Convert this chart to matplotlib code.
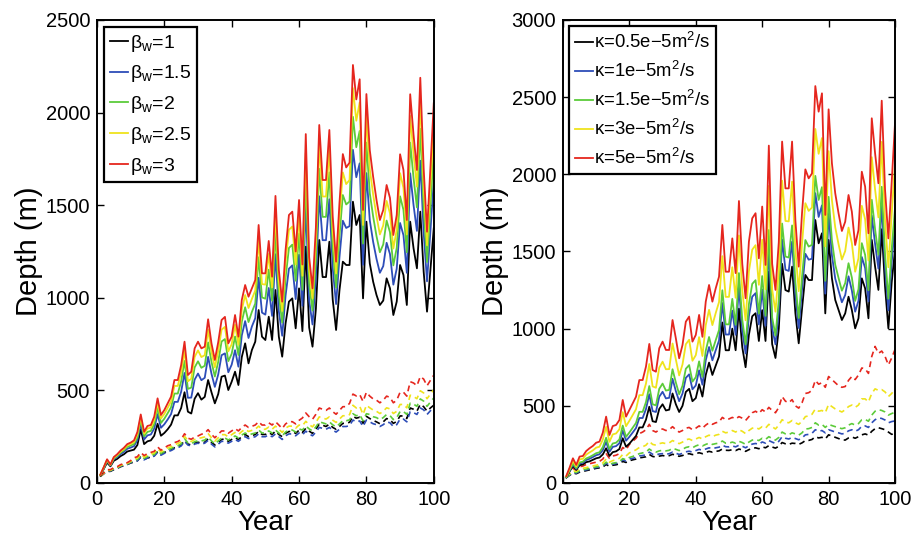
import matplotlib
matplotlib.use('Agg')
import matplotlib.pyplot as plt

plt.rcParams['font.family'] = ['Liberation Sans', 'DejaVu Sans']
plt.rcParams['mathtext.fontset'] = 'custom'
plt.rcParams['mathtext.rm'] = 'Liberation Sans'
plt.rcParams['mathtext.it'] = 'Liberation Sans:italic'

years = list(range(1, 101))

# left panel: beta_w runs (solid = upper curve, dashed = lower curve)
beta_labels = ['β$_\\mathrm{w}$=1', 'β$_\\mathrm{w}$=1.5', 'β$_\\mathrm{w}$=2',
               'β$_\\mathrm{w}$=2.5', 'β$_\\mathrm{w}$=3']

L_black = [40,75,110,90,120,130,145,155,170,175, 180,205,290,210,225,230,255,320,255,270,
           290,315,365,365,405,490,385,375,455,485, 450,465,556,490,430,480,574,580,502,547,
           601,529,680,754,646,718,763,934,790,772, 898,772,1042,790,682,862,979,997,835,1051,
           820,1276,840,736,940,1312,1112,1112,1303,990, 826,1040,1195,1177,1177,1519,1393,1447,997,1411,
           1186,1087,1015,961,985,1105,1051,907,979,1177, 1123,961,1411,1267,1159,1465,1141,925,1150,1375]
L_blue = [42,79,117,94,128,140,156,168,185,191, 199,232,320,235,257,262,294,372,298,317,
          343,372,438,438,493,594,460,461,558,591, 555,568,681,590,519,586,690,700,598,639,
          717,628,797,874,783,845,890,1108,920,909, 1053,902,1235,927,795,1012,1157,1175,993,1232,
          957,1507,984,856,1107,1548,1311,1311,1532,1160, 966,1219,1416,1377,1387,1799,1651,1726,1178,1673,
          1419,1302,1210,1135,1171,1297,1236,1071,1157,1404, 1338,1135,1672,1500,1361,1740,1353,1089,1359,1632]
L_green = [43,81,121,96,132,146,164,177,195,202, 211,248,340,252,276,281,319,405,324,347,
           377,409,483,483,549,659,508,515,624,657, 622,633,759,654,575,654,764,777,658,698,
           791,691,871,949,869,924,969,1219,1002,995, 1152,984,1357,1013,866,1108,1269,1287,1092,1347,
           1043,1653,1076,931,1213,1697,1437,1437,1677,1268, 1055,1333,1555,1504,1520,1977,1813,1901,1293,1838,
           1565,1439,1333,1246,1288,1417,1354,1175,1269,1548, 1475,1246,1838,1646,1488,1913,1487,1193,1491,1794]
L_yellow = [44,83,125,98,137,151,170,184,203,211, 221,263,356,266,294,299,340,434,348,373,
            406,440,524,524,598,717,549,563,681,716, 680,690,828,709,624,712,828,843,711,749,
            855,746,936,1015,945,994,1039,1315,1074,1071, 1237,1056,1464,1089,929,1191,1367,1385,1179,1447,
            1119,1781,1155,997,1305,1827,1547,1547,1803,1362, 1132,1432,1677,1614,1636,2132,1956,2055,1393,1983,
            1694,1558,1441,1342,1391,1523,1456,1266,1367,1673, 1594,1342,1982,1775,1600,2065,1604,1284,1607,1935]
L_red = [45,85,128,100,140,155,175,190,210,218, 230,275,370,277,308,313,358,457,367,394,
         430,466,556,556,637,763,583,601,727,763, 727,736,884,754,664,760,880,897,754,790,
         907,790,988,1069,1006,1051,1096,1393,1132,1132, 1307,1114,1550,1150,979,1258,1447,1465,1250,1528,
         1180,1884,1220,1051,1380,1933,1636,1636,1906,1438, 1195,1512,1776,1704,1730,2257,2071,2180,1474,2100,
         1798,1654,1528,1420,1474,1609,1539,1339,1447,1775, 1690,1420,2099,1879,1690,2188,1699,1357,1700,2050]

Ld_black = [35,50,62,63,72,78,88,93,100,108, 113,120,140,128,135,140,148,170,155,165,
            172,178,190,195,205,230,210,205,215,220, 215,220,238,220,205,218,235,238,225,235,
            245,235,250,262,250,255,262,278,262,262, 272,262,280,262,250,268,278,278,268,285,
            272,295,280,268,290,318,312,305,318,300, 290,305,322,322,328,360,350,355,322,360,
            348,338,330,320,330,348,342,322,332,362, 362,348,405,398,388,425,412,388,405,420]
Ld_blue = [35,50,65,65,75,80,90,95,100,110, 115,120,140,125,135,140,145,165,150,160,
           170,175,185,190,200,225,205,200,210,215, 210,215,230,210,195,210,225,225,215,225,
           235,225,240,250,240,245,250,265,250,250, 260,250,265,250,235,255,265,265,255,270,
           260,280,265,255,275,300,295,290,300,285, 275,290,305,305,310,340,330,335,305,340,
           330,320,315,305,315,330,325,305,315,345, 345,330,385,380,370,405,395,370,390,410]
Ld_green = [36,52,67,67,77,82,93,98,103,113, 122,127,148,133,143,148,154,175,159,170,
            180,186,196,201,212,239,217,212,223,228, 227,232,248,227,211,227,243,243,232,243,
            254,243,259,270,259,265,270,286,270,270, 281,270,286,270,254,275,286,286,275,292,
            286,308,292,281,303,330,325,319,330,314, 303,319,336,336,341,374,363,369,336,374,
            370,358,353,342,353,370,364,342,353,386, 386,370,431,426,414,454,442,414,437,459]
Ld_yellow = [37,53,69,69,80,85,95,101,106,117, 129,134,157,140,151,157,162,185,168,179,
             190,196,207,213,224,252,230,224,235,241, 244,249,267,244,226,244,261,261,249,261,
             273,261,278,290,278,284,290,307,290,290, 302,290,307,290,273,296,307,307,296,313,
             309,333,315,303,327,357,351,345,357,339, 327,345,363,363,369,420,405,415,370,420,
             406,394,387,375,387,406,400,375,387,424, 424,406,474,467,455,498,486,455,480,504]
Ld_red = [38,55,72,72,83,88,99,105,110,121, 136,142,165,148,159,165,171,195,177,189,
          201,207,218,224,236,266,242,236,248,254, 263,269,288,263,244,263,281,281,269,281,
          294,281,300,313,300,306,313,331,313,313, 325,313,331,313,294,319,331,331,319,338,
          351,378,358,344,371,405,398,392,405,385, 371,392,412,412,430,480,470,478,440,490,
          469,454,447,433,447,469,462,433,447,490, 490,469,547,540,525,575,561,525,554,582]

# right panel: kappa runs
kappa_labels = ['κ=0.5e−5m$^2$/s', 'κ=1e−5m$^2$/s', 'κ=1.5e−5m$^2$/s',
                'κ=3e−5m$^2$/s', 'κ=5e−5m$^2$/s']

R_black = [35,75,110,85,115,120,135,140,150,160, 165,185,225,175,200,205,220,290,235,255,
           280,305,360,360,410,494,400,395,480,510, 470,475,580,510,460,500,590,610,530,550,
           640,560,700,780,700,760,820,1040,860,860, 1000,860,1130,880,750,960,1080,1100,920,1120,
           920,1369,900,810,1000,1420,1250,1240,1402,1100, 905,1130,1348,1315,1315,1704,1553,1618,1099,1575,
           1326,1186,1121,1056,1099,1207,1121,1002,1067,1326, 1261,1067,1575,1402,1251,1644,1272,1002,1300,1510]
R_blue = [37,80,120,91,126,131,149,157,168,180, 186,213,266,202,234,239,258,340,274,299,
          327,356,421,421,479,575,466,460,559,591, 548,552,675,595,530,579,681,704,607,632,
          730,637,795,881,795,860,923,1166,962,962, 1117,960,1269,988,839,1081,1207,1230,1027,1254,
          1019,1532,1004,898,1112,1578,1382,1374,1564,1220, 1004,1254,1485,1447,1453,1878,1724,1799,1227,1744,
          1475,1324,1246,1171,1218,1339,1248,1110,1181,1464, 1393,1177,1733,1549,1389,1811,1397,1119,1430,1674]
R_green = [38,83,127,96,133,138,159,168,180,193, 199,232,293,220,256,261,282,372,299,327,
           358,389,461,461,524,628,510,503,610,644, 599,603,737,651,575,630,740,764,657,685,
           788,688,857,946,857,925,991,1249,1028,1028, 1193,1025,1360,1058,898,1159,1290,1314,1097,1341,
           1083,1639,1072,956,1185,1681,1467,1461,1669,1298, 1069,1335,1574,1532,1543,1990,1834,1917,1310,1854,
           1572,1414,1328,1246,1295,1424,1331,1180,1256,1554, 1478,1249,1835,1644,1479,1919,1479,1194,1515,1781]
R_yellow = [42,92,144,107,153,157,184,198,211,229, 235,281,364,267,315,321,348,459,368,403,
            440,478,569,569,644,771,626,617,747,786, 737,738,904,800,697,768,899,928,792,828,
            945,823,1023,1122,1023,1101,1172,1470,1206,1206, 1398,1200,1604,1247,1054,1371,1512,1541,1284,1576,
            1255,1925,1254,1110,1381,1959,1698,1695,1953,1508, 1243,1552,1813,1763,1785,2294,2133,2235,1533,2150,
            1833,1656,1547,1448,1503,1655,1554,1369,1456,1796, 1709,1442,2111,1901,1721,2210,1698,1398,1742,2068]
R_red = [45,100,160,117,171,175,207,225,240,261, 268,326,430,311,369,376,408,538,430,473,
         516,559,667,667,754,901,732,721,873,916, 862,862,1056,937,808,894,1045,1078,916,959,
         1089,947,1175,1283,1175,1261,1337,1672,1369,1369, 1585,1360,1827,1420,1197,1564,1715,1748,1456,1791,
         1413,2186,1420,1251,1560,2212,1909,1909,2212,1700, 1402,1750,2032,1974,2006,2572,2406,2525,1737,2421,
         2071,1877,1747,1633,1693,1866,1758,1542,1639,2017, 1920,1618,2363,2136,1942,2477,1899,1585,1950,2331]

Rd_black = [34,50,65,60,70,75,80,85,90,95, 98,104,120,108,115,118,124,140,133,144,
            150,155,163,166,170,185,172,168,174,178, 174,177,186,180,173,178,186,190,184,190,
            196,190,198,205,200,205,208,220,212,211, 216,210,220,214,205,216,224,228,222,234,
            228,242,233,226,238,262,254,250,258,256, 250,260,275,276,282,300,292,296,285,312,
            305,296,288,280,278,292,298,290,300,312, 318,310,335,352,358,352,345,330,315,322]
Rd_blue = [35,52,68,64,75,80,85,90,95,100, 103,110,128,115,122,126,132,150,142,155,
           160,165,175,178,182,200,186,182,188,190, 186,190,200,193,185,192,202,206,200,210,
           218,212,220,228,222,228,232,245,235,234, 240,234,245,238,228,242,252,256,250,266,
           258,275,265,256,270,300,290,285,295,288, 280,292,312,315,322,345,335,340,325,345,
           338,330,325,318,322,338,345,335,345,368, 370,360,390,410,422,418,408,390,398,402]
Rd_green = [36,55,72,68,80,85,90,95,100,105, 108,115,135,120,128,132,138,158,150,165,
            172,180,190,195,200,220,205,200,208,212, 208,212,225,218,210,218,230,235,228,240,
            248,240,250,258,250,255,258,272,258,258, 265,258,270,262,250,265,278,282,275,290,
            282,300,288,278,295,330,318,312,325,318, 310,325,350,352,360,390,375,380,360,380,
            372,365,358,352,358,375,385,375,385,410, 412,400,440,465,475,470,460,440,450,458]
Rd_yellow = [38,60,80,75,90,95,100,105,110,115, 120,130,155,135,145,150,160,185,175,195,
             205,215,230,235,245,270,250,245,255,260, 255,260,275,265,255,265,280,285,275,285,
             295,285,300,310,300,310,315,335,325,330, 340,330,345,335,320,340,355,360,350,365,
             355,380,365,350,375,410,395,390,405,390, 380,400,430,435,445,480,465,470,455,510,
             495,480,470,460,475,495,505,490,505,545, 545,525,580,610,600,605,590,560,580,610]
Rd_red = [40,70,95,85,105,110,120,125,130,135, 140,155,190,160,175,180,190,230,215,250,
          270,290,320,330,345,380,340,330,345,350, 340,345,365,345,330,340,355,360,345,355,
          370,355,375,390,380,390,395,425,410,415, 425,415,430,420,405,430,455,465,450,475,
          460,490,470,455,490,560,530,520,540,500, 485,520,580,585,600,665,640,650,620,690,
          670,650,630,620,625,665,690,670,700,745, 740,710,820,885,840,855,820,765,810,865]

colors = ['#000000', '#2d4db8', '#5ccb3a', '#efe31c', '#e5261e']


def draw(ax, solids, dashed, labels, ymax, legsize, legspace):
    for vals, c in zip(dashed, colors):
        ax.plot(years, vals, color=c, lw=1.2, dashes=(3.5, 2.5))
    for vals, c, lab in zip(solids, colors, labels):
        ax.plot(years, vals, color=c, lw=1.3, label=lab)
    ax.set_xlim(0, 100)
    ax.set_ylim(0, ymax)
    ax.set_xticks(range(0, 101, 20))
    ax.set_yticks(range(0, ymax + 1, 500))
    ax.tick_params(direction='in', top=True, right=True, length=5, width=1,
                   labelsize=14.5, pad=5)
    for s in ax.spines.values():
        s.set_linewidth(1.4)
    ax.set_xlabel('Year', fontsize=20, labelpad=1)
    ax.set_ylabel('Depth (m)', fontsize=21, labelpad=2)
    leg = ax.legend(loc='upper left', fontsize=legsize, handlelength=0.95,
                    handletextpad=0.1, labelspacing=legspace, borderaxespad=0.35,
                    borderpad=0.3, fancybox=False, framealpha=1, edgecolor='black')
    leg.get_frame().set_linewidth(1.6)


fig = plt.figure(figsize=(9.13, 5.36), dpi=100)
ax1 = fig.add_axes([0.1062, 0.0989, 0.3689, 0.8638])
ax2 = fig.add_axes([0.6166, 0.0989, 0.3637, 0.8638])

draw(ax1, [L_black, L_blue, L_green, L_yellow, L_red],
     [Ld_black, Ld_blue, Ld_green, Ld_yellow, Ld_red], beta_labels, 2500, 14, 0.5)
draw(ax2, [R_black, R_blue, R_green, R_yellow, R_red],
     [Rd_black, Rd_blue, Rd_green, Rd_yellow, Rd_red], kappa_labels, 3000, 13.3, 0.48)

fig.savefig('out.png', dpi=100)
